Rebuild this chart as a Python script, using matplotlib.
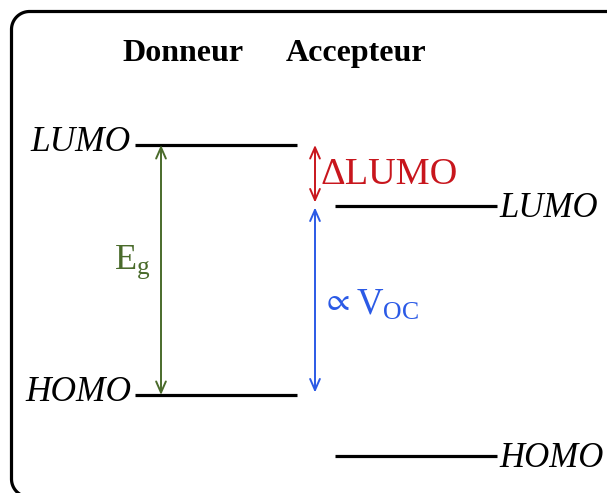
import numpy as np
import matplotlib.pyplot as plt

# niveaux d'energie (eV)
niveaux = ['LUMO', 'HOMO']
donneur = [-3.0, -5.0]
accepteur = [-3.49, -5.49]
titres = ['Donneur', 'Accepteur']

plt.rcParams['mathtext.fontset'] = 'custom'
plt.rcParams['mathtext.rm'] = 'Liberation Serif'
plt.rcParams['mathtext.it'] = 'Liberation Serif:italic'

fig = plt.figure(figsize=(6.07, 4.93), dpi=100)

# cadre arrondi (coordonnees en pixels)
bg = fig.add_axes([0, 0, 1, 1])
bg.set_xlim(0, 607)
bg.set_ylim(493, 0)
bg.axis('off')
r = 18
x0, y0, y1 = 11.5, 11.5, 497
t = np.linspace(0, np.pi / 2, 30)
bx = np.concatenate([[640], x0 + r - r * np.sin(t), x0 + r - r * np.cos(t), [640]])
by = np.concatenate([[y0], y0 + r - r * np.cos(t), y1 - r + r * np.sin(t), [y1]])
bg.plot(bx, by, color='black', lw=2.3, clip_on=False)

ax = fig.add_axes([0, 0, 1, 1])
ax.set_xlim(0, 607)
ax.set_ylim(-5.784, -1.84)
ax.axis('off')

serif = 'Liberation Serif'
ax.text(183, -2.27, titres[0], ha='center', va='center', fontsize=23, fontweight='bold', family=serif)
ax.text(356, -2.27, titres[1], ha='center', va='center', fontsize=23, fontweight='bold', family=serif)

# niveaux du donneur et de l'accepteur
for nom, ed, ea in zip(niveaux, donneur, accepteur):
    ax.plot([135, 297], [ed, ed], color='black', lw=2.3, solid_capstyle='butt')
    ax.plot([335, 497], [ea, ea], color='black', lw=2.3, solid_capstyle='butt')
    ax.text(131, ed + 0.02, nom, ha='right', va='center', fontsize=25.5, style='italic', family=serif)
    ax.text(499, ea - 0.02, nom, ha='left', va='center', fontsize=25, style='italic', family=serif)

vert = '#4a6b2b'
rouge = '#c8161d'
bleu = '#2b5ae6'
tete = '<->,head_length=0.8,head_width=0.35'

# gap du donneur
ax.annotate('', xy=(161, donneur[1]), xytext=(161, donneur[0]),
            arrowprops=dict(arrowstyle=tete, color=vert, lw=1.4, shrinkA=0, shrinkB=0))
ax.text(114, (donneur[0] + donneur[1]) / 2 + 0.06, r'$\mathrm{E_g}$', ha='left', va='center',
        fontsize=26, color=vert)

# difference des LUMO
ax.annotate('', xy=(315, accepteur[0] + 0.03), xytext=(315, donneur[0]),
            arrowprops=dict(arrowstyle=tete, color=rouge, lw=1.4, shrinkA=0, shrinkB=0))
ax.text(321, (donneur[0] + accepteur[0]) / 2 + 0.01, '\u0394LUMO', ha='left', va='center',
        fontsize=27.5, color=rouge, family=serif)

# tension de circuit ouvert
ax.annotate('', xy=(315, donneur[1] + 0.02), xytext=(315, accepteur[0] - 0.01),
            arrowprops=dict(arrowstyle=tete, color=bleu, lw=1.4, shrinkA=0, shrinkB=0))
mid = (accepteur[0] + donneur[1]) / 2
ax.text(322, mid - 0.0, r'$\propto$', ha='left', va='center', fontsize=24, color=bleu,
        math_fontfamily='stix')
ax.text(356, mid - 0.03, r'$\mathrm{V_{OC}}$', ha='left', va='center', fontsize=26.5, color=bleu)

plt.savefig('out.png', dpi=100)
